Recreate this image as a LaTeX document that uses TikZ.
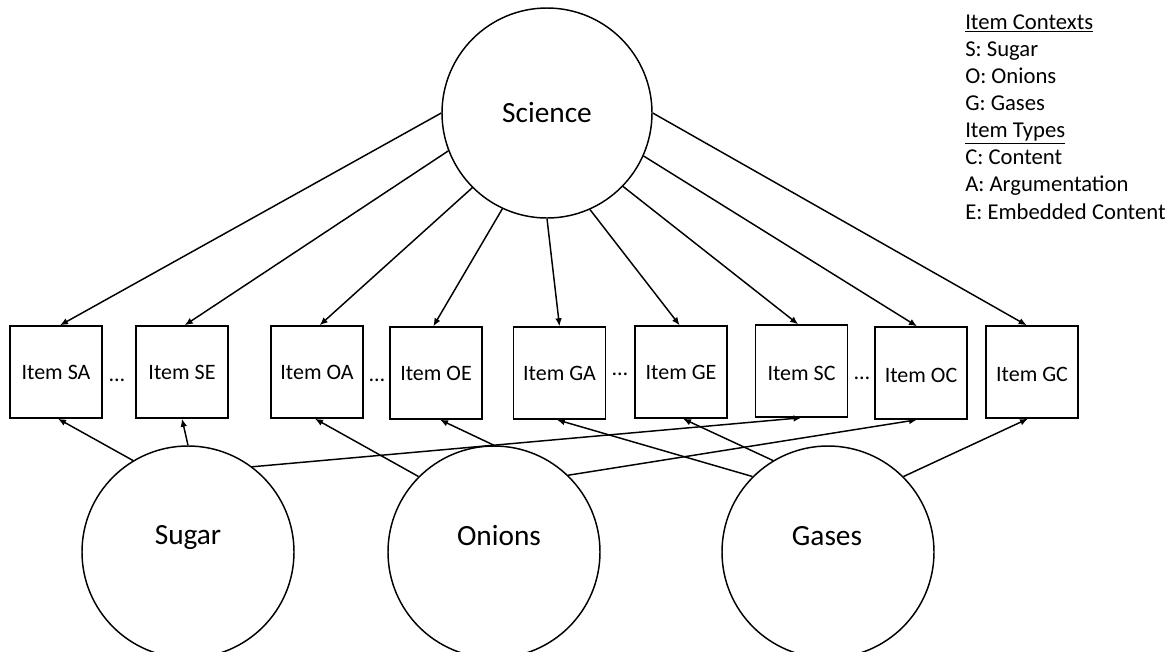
\documentclass[tikz,border=0pt]{standalone}
\usepackage{fontspec}
\setmainfont{Carlito}
\usetikzlibrary{arrows.meta}
\begin{document}
\begin{tikzpicture}[x=0.75pt,y=-0.75pt,
  latent/.style={circle,draw,line width=1.1pt,inner sep=0pt,minimum size=159pt},
  item/.style={rectangle,draw,line width=1.1pt,inner sep=0pt,minimum size=69pt,
    text height=10.6pt,text depth=0pt,font=\fontsize{16.5}{20}\selectfont},
  low/.style={text height=14.6pt},
  loading/.style={line width=1.1pt,-{Latex[length=6pt,width=5pt]}},
  dotsep/.style={anchor=base,inner sep=0pt,font=\fontsize{16.5}{20}\selectfont},
  bigtext/.style={font=\fontsize{22}{26}\selectfont},
  circlabel/.style={bigtext,anchor=base,inner sep=0pt},
  legend/.style={anchor=base west,inner sep=0pt,font=\fontsize{17}{20}\selectfont}]
\clip (0,0) rectangle (1175,651);
\useasboundingbox (0,0) rectangle (1175,651);

% general factor
\node[latent,minimum size=157.5pt,bigtext] (sci) at (547,113) {Science};

% context factors
\node[latent] (sug) at (188,552) {};
\node[latent] (oni) at (494,552) {};
\node[latent] (gas) at (828,552) {};
\node[circlabel] (sugtext) at (188,544) {Sugar};
\node[circlabel] (onitext) at (499,545) {Onions};
\node[circlabel] (gastext) at (827,545) {Gases};

% observed items
\node[item] (SA) at (56,372)    {Item SA};
\node[item] (SE) at (182,372)   {Item SE};
\node[item] (OA) at (317,372)   {Item OA};
\node[item] (OE) at (436,373)   {Item OE};
\node[item] (GA) at (559.5,373) {Item GA};
\node[item] (GE) at (681,372)   {Item GE};
\node[item,low] (SC) at (801.5,371) {Item SC};
\node[item,low] (OC) at (921,373)   {Item OC};
\node[item,low] (GC) at (1032,372)  {Item GC};

% ellipses between items
\node[dotsep] (d1) at (117,381) {\ldots};
\node[dotsep] (d2) at (377,381) {\ldots};
\node[dotsep] (d3) at (620,375) {\ldots};
\node[dotsep] (d4) at (862,379) {\ldots};

% loadings on the general factor
\draw[loading] (sci.180) -- ([xshift=3pt]SA.north);
\draw[loading] (sci.201) -- ([xshift=2pt]SE.north);
\draw[loading] (sci.225) -- ([xshift=2pt]OA.north);
\draw[loading] (sci.245) -- ([xshift=-2pt]OE.north);
\draw[loading] (sci.270) -- (GA.north);
\draw[loading] (sci.294) -- ([xshift=-1pt]GE.north);
\draw[loading] (sci.316) -- ([xshift=-2.5pt]SC.north);
\draw[loading] (sci.336) -- ([xshift=-3pt]OC.north);
\draw[loading] (sci.0)   -- ([xshift=-4pt]GC.north);

% loadings on the context factors
\draw[loading] (sug.121) -- ([xshift=1.5pt]SA.south);
\draw[loading] (sug.90)  -- (SE.south);
\draw[loading] (sug.53)  -- (SC.south);
\draw[loading] (oni.135) -- ([xshift=-1.5pt]OA.south);
\draw[loading] (oni.90)  -- ([xshift=3pt]OE.south);
\draw[loading] (oni.46)  -- ([xshift=-3pt]OC.south);
\draw[loading] (gas.135) -- ([xshift=-2pt]GA.south);
\draw[loading] (gas.121) -- ([xshift=1.5pt]GE.south);
\draw[loading] (gas.45)  -- ([xshift=-3pt]GC.south);

% key
\foreach \t [count=\i from 0] in {\underline{Item Contexts},S: Sugar,O: Onions,G: Gases,
    \underline{Item Types},C: Content,A: Argumentation,E: Embedded Content}
  \node[legend] (key\i) at (965,29+27.15*\i) {\t};
\end{tikzpicture}
\end{document}
